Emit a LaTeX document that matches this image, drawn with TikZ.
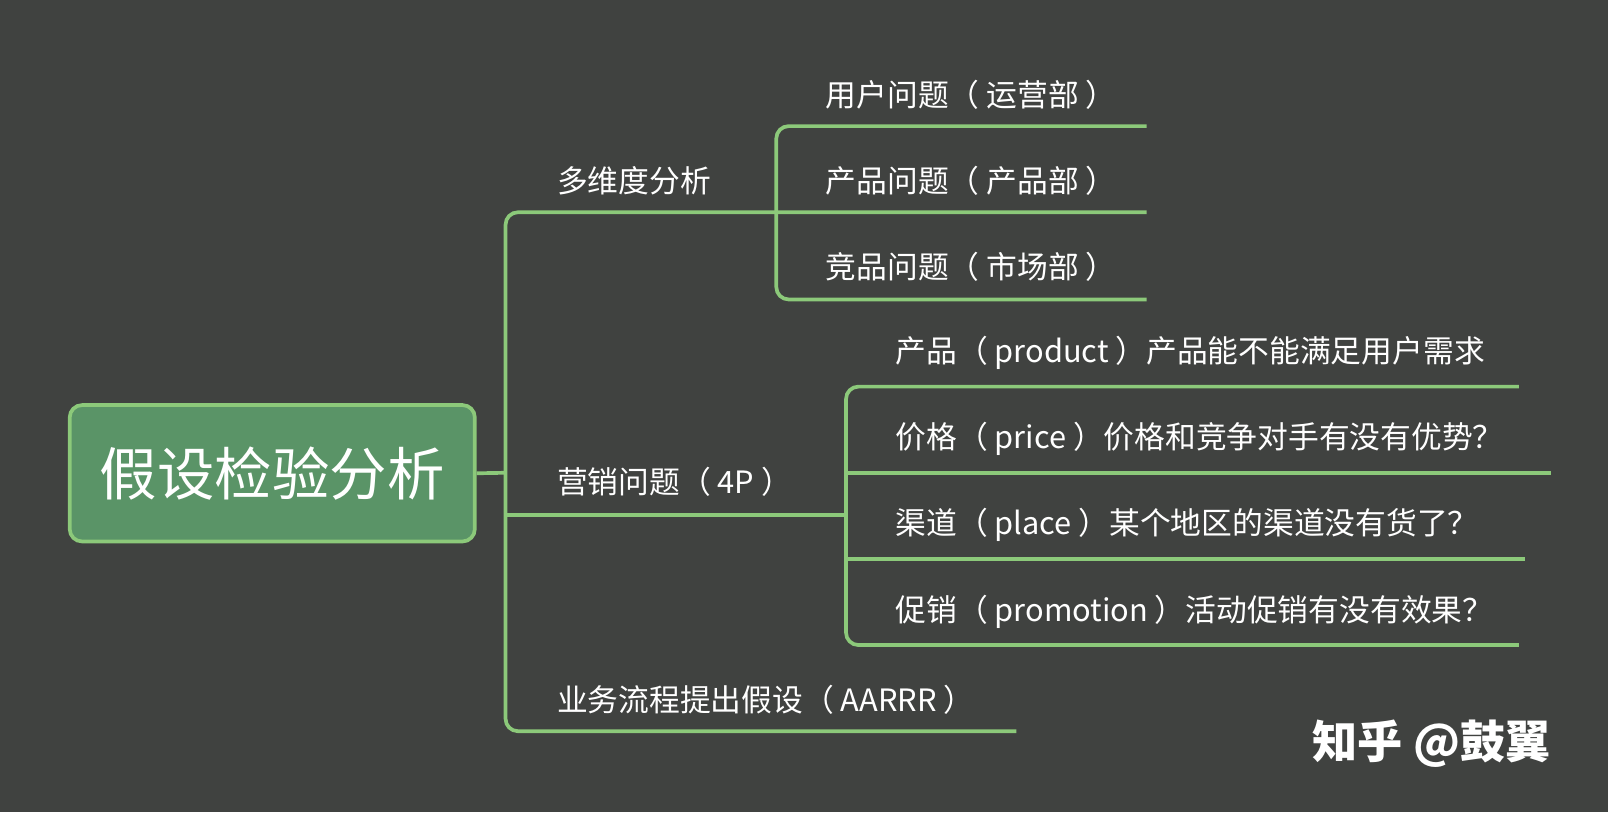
\documentclass[tikz,border=0pt]{standalone}
\usepackage{fontspec}
\setmainfont{Noto Sans CJK SC}
\definecolor{bg}{HTML}{404240}
\definecolor{ln}{HTML}{8CC97A}
\definecolor{rootfill}{HTML}{5A9467}
\begin{document}
\begin{tikzpicture}[x=1pt,y=-1pt,
  br/.style={draw=ln,line width=3.6pt,rounded corners=12pt},
  lbl/.style={anchor=west,text=white,font=\fontsize{30}{34}\selectfont,inner sep=0pt}]
\fill[bg] (0,0) rectangle (1568,792);
\useasboundingbox (0,0) rectangle (1568,792);
\node[draw=ln,line width=3.6pt,fill=rootfill,rounded corners=12pt,minimum width=395pt,minimum height=133pt,text=white,font=\fontsize{56}{60}\selectfont] (root) at (265.5,461.5) {假设检验分析};
\draw[br] (1118,207) -- (493,207) -- (493,713) -- (991,713);
\draw[br] (root.east) -- (493,461);
\draw[br] (493,502) -- (822,502);
\node[lbl] (b1) at (543,176) {多维度分析};
\node[lbl] (b2) at (543,470) {营销问题（ 4P ）};
\node[lbl] (b3) at (543,682) {业务流程提出假设（ AARRR ）};
\draw[br] (1118,123) -- (757,123) -- (757,292) -- (1118,292);
\node[lbl] (s1) at (805,92) {用户问题（ 运营部 ）};
\node[lbl] (s2) at (805,176) {产品问题（ 产品部 ）};
\node[lbl] (s3) at (805,260) {竞品问题（ 市场部 ）};
\draw[br] (1481,377) -- (825,377) -- (825,629) -- (1481,629);
\draw[br] (822,502) -- (825,502);
\draw[br] (825,461) -- (1512,461);
\draw[br] (825,545) -- (1487,545);
\node[lbl] (p1) at (873,344) {产品（ product ）产品能不能满足用户需求};
\node[lbl] (p2) at (873,428) {价格（ price ）价格和竞争对手有没有优势？};
\node[lbl] (p3) at (873,512) {渠道（ place ）某个地区的渠道没有货了？};
\node[lbl] (p4) at (873,597) {促销（ promotion ）活动促销有没有效果？};
\node[anchor=west,text=white,font=\fontsize{44}{48}\selectfont\bfseries,inner sep=0pt] (wm) at (1280,725) {知乎 @鼓翼};
\end{tikzpicture}
\end{document}
